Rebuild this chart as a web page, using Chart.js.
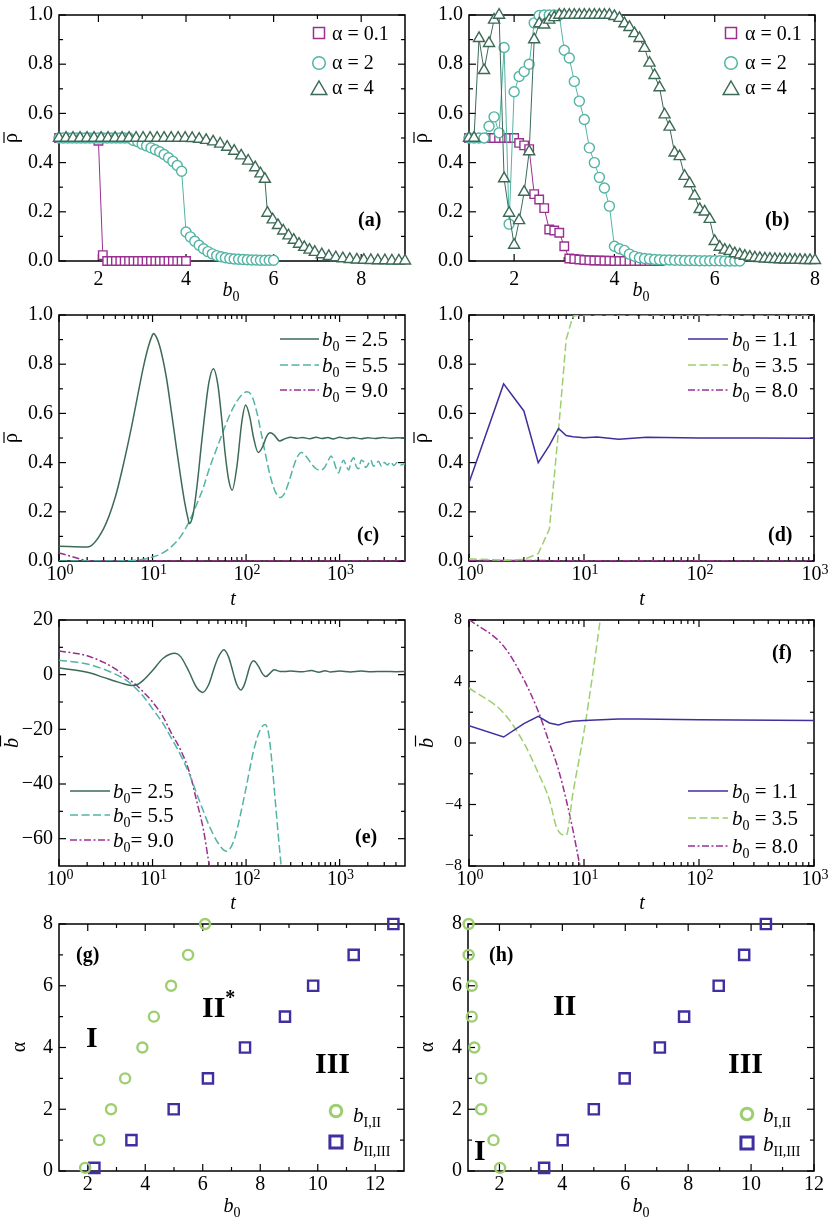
<!DOCTYPE html>
<html>
<head>
<meta charset="utf-8">
<title>rho / b phase panels</title>
<script src="https://cdn.jsdelivr.net/npm/chart.js@4.4.1/dist/chart.umd.min.js"></script>
<style>
  html, body { margin: 0; padding: 0; background: #fff; }
  body { position: relative; width: 830px; height: 1219px; overflow: hidden; }
  canvas { position: absolute; }
</style>
</head>
<body>
<canvas id="pa"></canvas><canvas id="pb"></canvas>
<canvas id="pc"></canvas><canvas id="pd"></canvas>
<canvas id="pe"></canvas><canvas id="pf"></canvas>
<canvas id="pg"></canvas><canvas id="ph"></canvas>
<script>
// ---- tick labels ----
const rhoTicks = [0, 0.2, 0.4, 0.6, 0.8, 1.0];
const b0TicksAB = [2, 4, 6, 8];
const decadeTicks = [1, 10, 100, 1000];
const bbarTicksE = [-60, -40, -20, 0, 20];
const bbarTicksF = [-8, -4, 0, 4, 8];
const alphaTicks = [0, 2, 4, 6, 8];
const b0TicksGH = [2, 4, 6, 8, 10, 12];

// ---- (a) rho vs b0 ----
const aX01 = [1.1,1.2,1.3,1.4,1.5,1.6,1.7,1.8,1.9,2.0,2.1,2.2,2.3,2.4,2.5,2.6,2.7,2.8,2.9,3.0,3.1,3.2,3.3,3.4,3.5,3.6,3.7,3.8,3.9,4.0];
const aRho01 = [0.5,0.5,0.5,0.5,0.5,0.5,0.5,0.5,0.5,0.489,0.024,0,0,0,0,0,0,0,0,0,0,0,0,0,0,0,0,0,0,0];
const aX2 = [1.1,1.2,1.3,1.4,1.5,1.6,1.7,1.8,1.9,2.0,2.1,2.2,2.3,2.4,2.5,2.6,2.7,2.8,2.9,3.0,3.1,3.2,3.3,3.4,3.5,3.6,3.7,3.8,3.9,4.0,4.1,4.2,4.3,4.4,4.5,4.6,4.7,4.8,4.9,5.0,5.1,5.2,5.3,5.4,5.5,5.6,5.7,5.8,5.9,6.0];
const aRho2 = [0.5,0.5,0.5,0.5,0.5,0.5,0.5,0.5,0.5,0.5,0.5,0.5,0.5,0.5,0.5,0.5,0.5,
  0.49,0.485,0.475,0.468,0.46,0.452,0.444,0.433,0.42,0.405,0.388,0.365,
  0.118,0.098,0.08,0.064,0.05,0.038,0.029,0.022,0.017,0.013,0.01,0.008,0.007,0.006,0.005,0.004,0.004,0.003,0.003,0.003,0.003];
const aX4 = [1.1,1.26,1.42,1.58,1.74,1.9,2.06,2.22,2.38,2.54,2.7,2.86,3.02,3.18,3.34,3.5,3.66,3.82,3.98,
  4.14,4.3,4.46,4.62,4.78,4.94,5.1,5.26,5.42,5.58,5.7,5.8,
  5.86,5.98,6.1,6.22,6.34,6.46,6.58,6.7,6.82,6.94,
  7.1,7.26,7.42,7.58,7.74,7.9,8.06,8.22,8.38,8.54,8.7,8.86,9.0];
const aRho4 = [0.5,0.5,0.5,0.5,0.5,0.5,0.5,0.5,0.5,0.5,0.5,0.5,0.5,0.5,0.5,0.5,0.5,0.5,0.5,
  0.499,0.496,0.491,0.485,0.476,0.463,0.447,0.428,0.407,0.38,0.355,0.333,
  0.195,0.168,0.145,0.123,0.103,0.085,0.069,0.056,0.045,0.036,
  0.026,0.019,0.014,0.01,0.007,0.005,0.004,0.003,0.002,0.002,0.001,0.001,0.001];

// ---- (b) rho vs b0 ----
const bX01 = [1.1,1.2,1.3,1.4,1.5,1.6,1.7,1.8,1.9,2.0,2.1,2.2,2.3,2.4,2.5,2.6,2.7,2.8,2.9,3.0,3.1,3.2,3.3,3.4,3.5,3.6,3.7,3.8,3.9,4.0,4.1,4.2,4.3,4.4,4.5,4.6,4.7,4.8,4.9];
const bRho01 = [0.5,0.5,0.5,0.5,0.5,0.5,0.5,0.5,0.5,0.5,
  0.48,0.47,0.455,0.272,0.25,0.215,0.128,0.124,0.115,
  0.06,0.01,0.008,0.006,0.004,0.003,0.002,0.002,0.001,0.001,
  0,0,0,0,0,0,0,0,0,0];
const bX2 = [1.1,1.2,1.3,1.4,1.5,1.6,1.7,1.8,1.9,2.0,2.1,2.2,2.3,2.4,2.5,2.6,2.7,2.8,2.9,3.0,3.1,3.2,3.3,3.4,3.5,3.6,3.7,3.8,3.9,4.0,4.1,4.2,4.3,4.4,4.5,4.6,4.7,4.8,4.9,5.0,5.1,5.2,5.3,5.4,5.5,5.6,5.7,5.8,5.9,6.0,6.1,6.2,6.3,6.4,6.5];
const bRho2 = [0.5,0.5,0.5,0.5,0.548,0.586,0.521,0.868,0.15,0.688,
  0.75,0.77,0.8,0.968,0.998,1.0,1.0,1.0,1.0,0.857,
  0.825,0.73,0.65,0.575,0.46,0.4,0.34,0.297,0.223,0.06,
  0.05,0.043,0.028,0.019,0.013,0.01,0.008,0.006,0.005,0.004,
  0.004,0.003,0.003,0.002,0.002,0.002,0.001,0.001,0.001,0.001,
  0.001,0,0,0,0];
const bX4 = [1.1,1.2,1.3,1.4,1.5,1.6,1.7,1.8,1.9,2.0,2.1,2.2,2.3,2.4,2.5,2.6,2.7,2.8,2.9,3.0,3.1,3.2,3.3,3.4,3.5,3.6,3.7,3.8,3.9,4.0,4.1,4.2,4.3,4.4,4.5,4.6,4.7,4.8,4.9,5.0,5.1,5.2,5.3,5.4,5.5,5.6,5.7,5.8,5.9,6.0,6.1,6.2,6.3,6.4,6.5,6.6,6.7,6.8,6.9,7.0,7.1,7.2,7.3,7.4,7.5,7.6,7.7,7.8,7.9,8.0];
const bRho4 = [0.5,0.5,0.905,0.775,0.885,0.98,1.0,0.335,0.195,0.065,
  0.165,0.28,0.445,0.9,0.965,0.96,0.98,0.99,1.0,1.0,
  1.0,1.0,1.0,1.0,1.0,1.0,1.0,1.0,1.0,0.995,
  0.987,0.965,0.95,0.925,0.905,0.865,0.805,0.755,0.705,0.595,
  0.545,0.44,0.425,0.345,0.315,0.265,0.21,0.2,0.17,0.08,
  0.057,0.045,0.04,0.03,0.025,0.02,0.016,0.013,0.011,0.009,
  0.008,0.007,0.006,0.005,0.005,0.004,0.004,0.003,0.003,0.003];

// ---- (c) rho vs t ----
const cT25 = [1,2,3,4,5,6,7,8,9,10,10.2,11,12,14,16,18,20,22,24,24.7,27,30,33,36,40,44.7,50,55,60,65,71,80,90,99,110,120,135,150,165,181,200,228,260,300,350,400,480,560,650,750,850,1000,1200,1400,1700,2000,2400,2900,3500,4200,5000];
const cRho25 = [0.06,0.057,0.132,0.26,0.41,0.55,0.68,0.79,0.87,0.92,
  0.925,0.91,0.87,0.75,0.6,0.46,0.34,0.24,0.17,0.152,
  0.186,0.31,0.46,0.59,0.725,0.782,0.715,0.574,0.43,0.332,
  0.288,0.388,0.565,0.634,0.582,0.503,0.441,0.464,0.505,0.521,
  0.512,0.488,0.497,0.503,0.499,0.502,0.497,0.503,0.498,0.502,
  0.496,0.503,0.498,0.502,0.497,0.501,0.498,0.502,0.499,0.501,0.5];
const cT55 = [1,2,4,6,8,10,12,15,20,25,30,35,40,50,60,70,80,90,102,115,130,145,160,180,200,215,232,260,290,320,350,393,440,500,560,620,690,760,810,860,920,975,1030,1100,1170,1250,1330,1420,1500,1600,1700,1800,1900,2000,2150,2300,2450,2600,2800,3000,3250,3500,3800,4100,4500,5000];
const cRho55 = [0,0,0,0.002,0.007,0.016,0.027,0.05,0.1,0.165,
  0.235,0.3,0.37,0.47,0.55,0.61,0.65,0.675,0.688,0.672,
  0.606,0.52,0.44,0.35,0.292,0.268,0.258,0.278,0.328,0.381,
  0.421,0.441,0.425,0.395,0.375,0.369,0.38,0.41,0.427,0.41,
  0.375,0.358,0.385,0.41,0.39,0.37,0.405,0.42,0.385,0.375,
  0.41,0.405,0.38,0.39,0.41,0.385,0.395,0.405,0.385,0.4,
  0.39,0.403,0.388,0.4,0.39,0.396];
const cT90 = [1, 2, 5000];
const cRho90 = [0.033, 0, 0];

// ---- (d) rho vs t ----
const dT11 = [1,2,3,4,5,6,7,8,10,13,20,35,100,300,1000];
const dRho11 = [0.318,0.72,0.61,0.4,0.47,0.539,0.51,0.505,0.501,0.504,0.495,0.503,0.5,0.5,0.499];
const dT35 = [1,2,3,4,5,6,7,8,9,1000];
const dRho35 = [0.009,0.003,0.006,0.03,0.13,0.53,0.9,0.995,1.0,1.0];
const dT80 = [1, 1000];
const dRho80 = [0.002, 0];

// ---- (e) bbar vs t ----
const eT25 = [1,2,3,4,5,6,7,8,10,13,17.4,20,23,25,28,30,34.3,40,45,50,58,65,70,75,80,88,95,100,105,112,120,135,150,163,180,200,230,260,300,400,500,600,700,800,1000,1300,1700,2200,3000,4000,5000];
const eB25 = [2.4,0.85,-1.0,-2.4,-3.4,-3.95,-3.5,-2.0,1.5,6.0,
  7.8,6.6,3.0,0.5,-3.2,-5.0,-6.5,-3.5,1.8,6.1,
  9.1,6.5,2.9,-0.9,-3.8,-5.6,-4.0,-1.75,0.9,3.9,
  5.1,3.2,0.3,-0.7,0.5,1.8,1.2,1.15,1.3,1.1,
  1.5,0.9,1.4,1.0,1.3,1.0,1.3,1.1,1.2,1.1,1.2];
const eT55 = [1,2,3,4,5,6,7,8,10,13,16,20,25,30,35,40,50,62,75,86,100,120,140,160,175,190,205,220,237,255];
const eB55 = [5.3,3.9,2.0,0.2,-1.6,-3.6,-5.8,-8.0,-12.5,-18,
  -23.4,-29.5,-36.7,-44,-50,-55,-61.5,-64.6,-60.2,-52,
  -41.4,-28,-20.5,-18.2,-22,-33,-46,-58,-70,-82];
const eT90 = [1,2,3,4,5,6,7,8,10,13,16,20,25,30,35,40,45];
const eB90 = [8.7,6.9,4.5,2.1,-0.4,-2.5,-4.4,-6.4,-10,-15.5,-21.6,-27.6,-36.1,-47,-56.7,-68.8,-78.5];

// ---- (f) bbar vs t ----
const fT11 = [1,2,3,4,5,6,7,8,10,20,30,100,1000];
const fB11 = [1.13,0.39,1.26,1.74,1.3,1.17,1.34,1.41,1.47,1.56,1.56,1.52,1.47];
const fT35 = [1,2,3,4,5,5.8,7,8,10,12,14,16];
const fB35 = [3.58,1.95,0.0,-1.95,-3.69,-5.53,-6.0,-3.3,0.74,4.66,8.3,11.5];
const fT80 = [1,2,3,4,5,6,7,8,9,10];
const fB80 = [8.03,6.3,4.12,2.06,0.0,-1.74,-3.69,-5.64,-7.6,-9.3];

// ---- (g), (h) phase boundaries ----
const alphaVals = [0.1, 1, 2, 3, 4, 5, 6, 7, 8];
const gB_I_II = [1.91, 2.40, 2.81, 3.30, 3.90, 4.30, 4.90, 5.49, 6.08];
const gB_II_III = [2.23, 3.52, 4.99, 6.18, 7.47, 8.86, 9.84, 11.25, 12.63];
const hB_I_II = [2.02, 1.81, 1.42, 1.42, 1.2, 1.12, 1.12, 1.02, 1.02];
const hB_II_III = [3.42, 4.01, 5.0, 5.98, 7.1, 7.87, 8.97, 9.78, 10.47];

// ---- style ----
const FAM = '"Liberation Serif", "Times New Roman", serif';
const MAG = '#993090', TEAL = '#52b4a4', DKG = '#3d6a56', INDIGO = '#3f2f9f', LGRN = '#9dcf70';
const DASH = [8, 3.5], DASHDOT = [7, 2.5, 2, 2.5];

function pts(xs, ys) { return xs.map((x, i) => ({ x, y: ys[i] })); }

function mk(label, xs, ys, color, style, r, order) {
  return {
    label, data: pts(xs, ys), showLine: true, order,
    borderColor: color, borderWidth: 1, backgroundColor: '#fff',
    pointStyle: style, pointRadius: r, pointBorderWidth: 1.4,
    pointBorderColor: color, pointBackgroundColor: '#fff', clip: false
  };
}

function ln(label, xs, ys, color, dash, smooth) {
  return {
    label, data: pts(xs, ys), showLine: true,
    borderColor: color, borderWidth: 1.5, borderDash: dash || [],
    pointRadius: 0, tension: 0,
    cubicInterpolationMode: smooth ? 'monotone' : 'default'
  };
}

function pt(label, xs, ys, color, style, r) {
  return {
    label, data: pts(xs, ys), showLine: false,
    pointStyle: style, pointRadius: r, pointBorderWidth: 2.4,
    pointBorderColor: color, pointBackgroundColor: 'rgba(0,0,0,0)', clip: false
  };
}

function setFont(ctx, size, p) {
  ctx.font = (p && p.i ? 'italic ' : '') + (p && p.b ? 'bold ' : '') + size + 'px ' + FAM;
}

// mixed text: parts are strings or {t, i, b, sub, sup}
function rich(ctx, parts, x, y, size, align, bold) {
  const segs = parts.map(p => typeof p === 'string' ? { t: p } : p).map(p => {
    const s = p.sup ? Math.round(size * 0.68) : p.sub ? Math.round(size * 0.68) : size;
    setFont(ctx, s, { i: p.i, b: p.b || bold });
    return { p, font: ctx.font, w: ctx.measureText(p.t).width,
             dy: p.sub ? size * 0.26 : p.sup ? -(p.rise || size * 0.42) : 0 };
  });
  const total = segs.reduce((a, s) => a + s.w, 0);
  let cx = align === 'center' ? x - total / 2 : align === 'right' ? x - total : x;
  ctx.textAlign = 'left';
  ctx.textBaseline = 'alphabetic';
  for (const s of segs) { ctx.font = s.font; ctx.fillText(s.p.t, cx, y + s.dy); cx += s.w; }
  return total;
}

function minorTicks(major, min, max, log) {
  const out = [];
  if (log) {
    for (let d = 0; d <= 4; d++)
      for (let k = 2; k <= 9; k++) {
        const v = k * Math.pow(10, d);
        if (v > min && v < max) out.push(v);
      }
    return out;
  }
  const step = major[1] - major[0];
  [major[0] - step / 2, ...major.map(v => v + step / 2)].forEach(v => {
    if (v > min + 1e-9 && v < max - 1e-9) out.push(v);
  });
  return out;
}

function drawMarker(ctx, style, x, y, r, color, lw) {
  ctx.save();
  ctx.strokeStyle = color; ctx.lineWidth = lw; ctx.setLineDash([]);
  ctx.fillStyle = '#fff';
  ctx.beginPath();
  if (style === 'circle') ctx.arc(x, y, r, 0, Math.PI * 2);
  else if (style === 'rect') { const s = r * Math.SQRT1_2; ctx.rect(x - s, y - s, 2 * s, 2 * s); }
  else { ctx.moveTo(x, y - r); ctx.lineTo(x + r * 0.866, y + r * 0.5); ctx.lineTo(x - r * 0.866, y + r * 0.5); ctx.closePath(); }
  if (lw < 2) ctx.fill();
  ctx.stroke();
  ctx.restore();
}

function minus(v) { return v < 0 ? '\u2212' + Math.abs(v) : String(v); }

function deco(o, ox, oy) {
  return {
    id: 'deco',
    beforeDatasetsDraw(chart) {
      const ctx = chart.ctx, a = chart.chartArea, xs = chart.scales.x, ys = chart.scales.y;
      ctx.save();
      ctx.strokeStyle = '#000';
      ctx.lineWidth = 1.2;
      const seg = (x1, y1, x2, y2) => { ctx.beginPath(); ctx.moveTo(x1, y1); ctx.lineTo(x2, y2); ctx.stroke(); };
      const xm = minorTicks(o.xTicks, o.xMin, o.xMax, o.xLog);
      const ym = minorTicks(o.yTicks, o.yMin, o.yMax, false);
      [[o.xTicks, 7], [xm, 4]].forEach(([vals, len]) => vals.forEach(v => {
        const p = xs.getPixelForValue(v);
        seg(p, a.bottom, p, a.bottom - len); seg(p, a.top, p, a.top + len);
      }));
      [[o.yTicks, 7], [ym, 4]].forEach(([vals, len]) => vals.forEach(v => {
        const p = ys.getPixelForValue(v);
        seg(a.left, p, a.left + len, p); seg(a.right, p, a.right - len, p);
      }));
      ctx.lineWidth = 1.5;
      ctx.strokeRect(a.left, a.top, a.right - a.left, a.bottom - a.top);
      ctx.restore();
    },
    afterDraw(chart) {
      const ctx = chart.ctx, a = chart.chartArea, xs = chart.scales.x, ys = chart.scales.y;
      ctx.save();
      ctx.translate(-ox, -oy);
      ctx.fillStyle = '#000';
      ctx.strokeStyle = '#000';
      const L = a.left + ox, B = a.bottom + oy;
      // x tick labels
      o.xTicks.forEach(v => {
        const px = xs.getPixelForValue(v) + ox;
        if (o.xLog) rich(ctx, ['10', { t: String(Math.round(Math.log10(v))), sup: true, rise: 6 }], px + 1, B + 19, 20, 'center');
        else rich(ctx, [minus(v)], px, B + o.xLabelDy, 20, 'center');
      });
      // y tick labels
      setFont(ctx, o.ySize || 20);
      ctx.textAlign = 'right';
      ctx.textBaseline = 'middle';
      o.yTicks.forEach(v => {
        const py = ys.getPixelForValue(v) + oy;
        ctx.fillText(o.yFmt ? o.yFmt(v) : minus(v), L - (o.yPad || 6), py);
      });
      // axis titles
      const yt = o.yTitle;
      ctx.save();
      ctx.translate(yt.bx, yt.cy);
      ctx.rotate(-Math.PI / 2);
      const w = rich(ctx, yt.parts, 0, 0, 20, 'center');
      if (yt.bar) {
        ctx.lineWidth = 1.2;
        ctx.beginPath();
        ctx.moveTo(-w / 2 + yt.bar.dx, -yt.bar.h);
        ctx.lineTo(w / 2 + yt.bar.dx + 1, -yt.bar.h);
        ctx.stroke();
      }
      ctx.restore();
      rich(ctx, o.xTitle.parts, o.xTitle.x, o.xTitle.y, 20, 'center');
      // legend
      (o.legend || []).forEach(e => {
        const ds = chart.data.datasets[e.ds];
        if (e.kind === 'line') {
          ctx.save();
          ctx.strokeStyle = ds.borderColor; ctx.lineWidth = 1.5;
          ctx.setLineDash(ds.borderDash || []);
          ctx.beginPath(); ctx.moveTo(e.x1, e.y); ctx.lineTo(e.x2, e.y); ctx.stroke();
          ctx.restore();
        } else {
          drawMarker(ctx, ds.pointStyle, e.x1, e.y, e.r, ds.pointBorderColor, e.lw || 1.5);
        }
        rich(ctx, e.parts, e.tx, e.ty, e.size || 20, 'left');
      });
      // panel labels and region labels
      (o.notes || []).forEach(n => rich(ctx, n.parts, n.x, n.y, n.size || 20, 'left', true));
      ctx.restore();
    }
  };
}

function panel(id, box, o) {
  const cv = document.getElementById(id);
  const ox = box.L - 59, oy = box.T - 15;
  cv.style.left = ox + 'px';
  cv.style.top = oy + 'px';
  cv.width = box.R - box.L + 74;
  cv.height = box.B - box.T + 63;
  new Chart(cv, {
    type: 'scatter',
    data: { datasets: o.datasets },
    options: {
      responsive: false,
      animation: false,
      events: [],
      layout: { autoPadding: false, padding: { left: 59, top: 15, right: 15, bottom: 48 } },
      plugins: { legend: { display: false }, tooltip: { enabled: false } },
      scales: {
        x: { type: o.xLog ? 'logarithmic' : 'linear', min: o.xMin, max: o.xMax, display: false },
        y: { type: 'linear', min: o.yMin, max: o.yMax, display: false }
      }
    },
    plugins: [deco(o, ox, oy)]
  });
}

const RHO = { parts: ['\u03c1'], bar: { h: 13, dx: 0 } };
const BBAR = { parts: [{ t: 'b', i: true }], bar: { h: 17.5, dx: 1.5 } };
const ALPHA = { parts: ['\u03b1'] };
const B0 = [{ t: 'b', i: true }, { t: '0', sub: true }];
const T = [{ t: 't', i: true }];
const lab = (s) => [{ t: s, b: true }];
const b0eq = (v, sp) => [{ t: 'b', i: true }, { t: '0', sub: true }, (sp ? ' = ' : '= ') + v];

// (a)
panel('pa', { L: 59, T: 15, R: 405, B: 261 }, {
  xMin: 1.1, xMax: 9, xTicks: b0TicksAB, xLabelDy: 24,
  yMin: 0, yMax: 1, yTicks: rhoTicks, yFmt: v => v.toFixed(1),
  datasets: [
    mk('\u03b1 = 0.1', aX01, aRho01, MAG, 'rect', 6, 2),
    mk('\u03b1 = 2', aX2, aRho2, TEAL, 'circle', 5, 1),
    mk('\u03b1 = 4', aX4, aRho4, DKG, 'triangle', 6.4, 0)
  ],
  yTitle: Object.assign({ bx: 17, cy: 138 }, RHO),
  xTitle: { parts: B0, x: 231, y: 296 },
  legend: [
    { ds: 0, x1: 319, y: 33, r: 7.8, tx: 332, ty: 40, parts: ['\u03b1 = 0.1'] },
    { ds: 1, x1: 319, y: 63, r: 6.3, tx: 332, ty: 69, parts: ['\u03b1 = 2'] },
    { ds: 2, x1: 319, y: 90, r: 9, tx: 332, ty: 94, parts: ['\u03b1 = 4'] }
  ],
  notes: [{ parts: lab('(a)'), x: 358, y: 226 }]
});

// (b)
panel('pb', { L: 469, T: 15, R: 815, B: 261 }, {
  xMin: 1.1, xMax: 8, xTicks: b0TicksAB, xLabelDy: 24,
  yMin: 0, yMax: 1, yTicks: rhoTicks, yFmt: v => v.toFixed(1),
  datasets: [
    mk('\u03b1 = 0.1', bX01, bRho01, MAG, 'rect', 6, 2),
    mk('\u03b1 = 2', bX2, bRho2, TEAL, 'circle', 5, 1),
    mk('\u03b1 = 4', bX4, bRho4, DKG, 'triangle', 6.4, 0)
  ],
  yTitle: Object.assign({ bx: 427, cy: 138 }, RHO),
  xTitle: { parts: B0, x: 641, y: 296 },
  legend: [
    { ds: 0, x1: 731, y: 33, r: 7.8, tx: 745, ty: 40, parts: ['\u03b1 = 0.1'] },
    { ds: 1, x1: 731, y: 63, r: 6.3, tx: 745, ty: 69, parts: ['\u03b1 = 2'] },
    { ds: 2, x1: 731, y: 90, r: 9, tx: 745, ty: 94, parts: ['\u03b1 = 4'] }
  ],
  notes: [{ parts: lab('(b)'), x: 765, y: 226 }]
});

// (c)
panel('pc', { L: 59, T: 315, R: 405, B: 561 }, {
  xLog: true, xMin: 1, xMax: 5000, xTicks: decadeTicks,
  yMin: 0, yMax: 1, yTicks: rhoTicks, yFmt: v => v.toFixed(1),
  datasets: [
    ln('b0 = 2.5', cT25, cRho25, DKG, null, true),
    ln('b0 = 5.5', cT55, cRho55, TEAL, DASH, true),
    ln('b0 = 9.0', cT90, cRho90, MAG, DASHDOT, false)
  ],
  yTitle: Object.assign({ bx: 17, cy: 438 }, RHO),
  xTitle: { parts: T, x: 233, y: 605 },
  legend: [
    { ds: 0, kind: 'line', x1: 280, x2: 319, y: 339, tx: 322, ty: 346, size: 21, parts: b0eq('2.5', true) },
    { ds: 1, kind: 'line', x1: 280, x2: 319, y: 365, tx: 322, ty: 372, size: 21, parts: b0eq('5.5', true) },
    { ds: 2, kind: 'line', x1: 280, x2: 319, y: 390, tx: 322, ty: 397, size: 21, parts: b0eq('9.0', true) }
  ],
  notes: [{ parts: lab('(c)'), x: 357, y: 541 }]
});

// (d)
panel('pd', { L: 469, T: 315, R: 814, B: 561 }, {
  xLog: true, xMin: 1, xMax: 1000, xTicks: decadeTicks,
  yMin: 0, yMax: 1, yTicks: rhoTicks, yFmt: v => v.toFixed(1),
  datasets: [
    ln('b0 = 1.1', dT11, dRho11, INDIGO, null, false),
    ln('b0 = 3.5', dT35, dRho35, LGRN, DASH, false),
    ln('b0 = 8.0', dT80, dRho80, MAG, DASHDOT, false)
  ],
  yTitle: Object.assign({ bx: 427, cy: 438 }, RHO),
  xTitle: { parts: T, x: 642, y: 605 },
  legend: [
    { ds: 0, kind: 'line', x1: 688, x2: 728, y: 339, tx: 732, ty: 346, size: 21, parts: b0eq('1.1', true) },
    { ds: 1, kind: 'line', x1: 688, x2: 728, y: 365, tx: 732, ty: 372, size: 21, parts: b0eq('3.5', true) },
    { ds: 2, kind: 'line', x1: 688, x2: 728, y: 390, tx: 732, ty: 397, size: 21, parts: b0eq('8.0', true) }
  ],
  notes: [{ parts: lab('(d)'), x: 768, y: 541 }]
});

// (e)
panel('pe', { L: 59, T: 620, R: 405, B: 866 }, {
  xLog: true, xMin: 1, xMax: 5000, xTicks: decadeTicks,
  yMin: -70, yMax: 20, yTicks: bbarTicksE,
  datasets: [
    ln('b0 = 2.5', eT25, eB25, DKG, null, true),
    ln('b0 = 5.5', eT55, eB55, TEAL, DASH, true),
    ln('b0 = 9.0', eT90, eB90, MAG, DASHDOT, true)
  ],
  yTitle: Object.assign({ bx: 18, cy: 743 }, BBAR),
  xTitle: { parts: T, x: 233, y: 909 },
  legend: [
    { ds: 0, kind: 'line', x1: 70, x2: 110, y: 791, tx: 113, ty: 798, size: 21, parts: b0eq('2.5', false) },
    { ds: 1, kind: 'line', x1: 70, x2: 110, y: 815, tx: 113, ty: 822, size: 21, parts: b0eq('5.5', false) },
    { ds: 2, kind: 'line', x1: 70, x2: 110, y: 840, tx: 113, ty: 847, size: 21, parts: b0eq('9.0', false) }
  ],
  notes: [{ parts: lab('(e)'), x: 355, y: 843 }]
});

// (f)
panel('pf', { L: 469, T: 620, R: 814, B: 866 }, {
  xLog: true, xMin: 1, xMax: 1000, xTicks: decadeTicks,
  yMin: -8, yMax: 8, yTicks: bbarTicksF, ySize: 16, yPad: 7,
  datasets: [
    ln('b0 = 1.1', fT11, fB11, INDIGO, null, false),
    ln('b0 = 3.5', fT35, fB35, LGRN, DASH, true),
    ln('b0 = 8.0', fT80, fB80, MAG, DASHDOT, true)
  ],
  yTitle: Object.assign({ bx: 433, cy: 743 }, BBAR),
  xTitle: { parts: T, x: 642, y: 909 },
  legend: [
    { ds: 0, kind: 'line', x1: 688, x2: 728, y: 791, tx: 732, ty: 798, size: 21, parts: b0eq('1.1', true) },
    { ds: 1, kind: 'line', x1: 688, x2: 728, y: 818, tx: 732, ty: 825, size: 21, parts: b0eq('3.5', true) },
    { ds: 2, kind: 'line', x1: 688, x2: 728, y: 846, tx: 732, ty: 853, size: 21, parts: b0eq('8.0', true) }
  ],
  notes: [{ parts: lab('(f)'), x: 772, y: 659 }]
});

const bI = [{ t: 'b', i: true }, { t: 'I,II', sub: true }];
const bII = [{ t: 'b', i: true }, { t: 'II,III', sub: true }];

// (g)
panel('pg', { L: 59, T: 924, R: 404, B: 1171 }, {
  xMin: 1, xMax: 13, xTicks: b0TicksGH, xLabelDy: 19,
  yMin: 0, yMax: 8, yTicks: alphaTicks,
  datasets: [
    pt('b_I,II', gB_I_II, alphaVals, LGRN, 'circle', 5),
    pt('b_II,III', gB_II_III, alphaVals, INDIGO, 'rect', 7.2)
  ],
  yTitle: Object.assign({ bx: 25, cy: 1047 }, ALPHA),
  xTitle: { parts: B0, x: 232, y: 1212 },
  legend: [
    { ds: 0, x1: 336, y: 1111, r: 5.8, lw: 3, tx: 353, ty: 1122, size: 21, parts: bI },
    { ds: 1, x1: 336, y: 1142, r: 8.6, lw: 3, tx: 353, ty: 1151, size: 21, parts: bII }
  ],
  notes: [
    { parts: lab('(g)'), x: 76, y: 961 },
    { parts: lab('I'), x: 86, y: 1047, size: 30 },
    { parts: [{ t: 'II', b: true }, { t: '*', sup: true, b: true }], x: 202, y: 1017, size: 30 },
    { parts: lab('III'), x: 315, y: 1073, size: 30 }
  ]
});

// (h)
panel('ph', { L: 468, T: 924, R: 814, B: 1171 }, {
  xMin: 1, xMax: 12, xTicks: b0TicksGH, xLabelDy: 19,
  yMin: 0, yMax: 8, yTicks: alphaTicks,
  datasets: [
    pt('b_I,II', hB_I_II, alphaVals, LGRN, 'circle', 5),
    pt('b_II,III', hB_II_III, alphaVals, INDIGO, 'rect', 7.2)
  ],
  yTitle: Object.assign({ bx: 433, cy: 1047 }, ALPHA),
  xTitle: { parts: B0, x: 641, y: 1212 },
  legend: [
    { ds: 0, x1: 747, y: 1114, r: 5.8, lw: 3, tx: 763, ty: 1122, size: 21, parts: bI },
    { ds: 1, x1: 747, y: 1143, r: 8.6, lw: 3, tx: 763, ty: 1151, size: 21, parts: bII }
  ],
  notes: [
    { parts: lab('(h)'), x: 489, y: 961 },
    { parts: lab('II'), x: 553, y: 1015, size: 30 },
    { parts: lab('III'), x: 728, y: 1073, size: 30 },
    { parts: lab('I'), x: 474, y: 1160, size: 30 }
  ]
});
</script>
</body>
</html>
